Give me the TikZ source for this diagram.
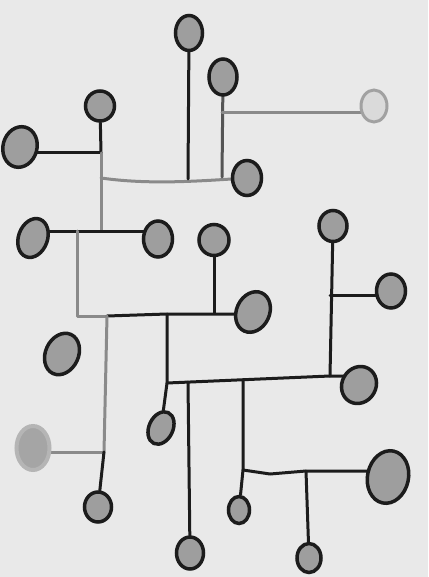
\documentclass[tikz,border=0pt]{standalone}
\usetikzlibrary{shapes.geometric}
\pgfdeclarelayer{bg}
\pgfdeclarelayer{lines}
\pgfsetlayers{bg,lines,main}
\definecolor{paper}{HTML}{E9E9E9}
\definecolor{ink}{HTML}{1C1C1C}
\definecolor{dotfill}{HTML}{9E9E9E}
\definecolor{greyline}{HTML}{8A8A8A}
\definecolor{midline}{HTML}{555555}
\tikzset{
  dot/.style={ellipse, draw=ink, line width=3.5pt, fill=dotfill, inner sep=0pt},
  faintdot/.style={ellipse, draw=greyline!80, line width=3pt, fill=paper!80!dotfill, inner sep=0pt},
  ghostdot/.style={ellipse, draw=dotfill!70!paper, line width=4pt, fill=dotfill!90!paper, inner sep=0pt},
  wire/.style={draw=ink, line width=3pt, line cap=round, line join=round},
  greywire/.style={draw=greyline, line width=3pt, line cap=round, line join=round},
  midwire/.style={draw=midline, line width=3pt, line cap=round, line join=round}
}
\begin{document}
\begin{tikzpicture}[x=1pt,y=-1pt]
\begin{pgfonlayer}{bg}
\fill[paper] (0,0) rectangle (428,577);
\end{pgfonlayer}
\useasboundingbox (0,0) rectangle (428,577);

% nodes
\node[dot, minimum width=27pt, minimum height=35pt] (n1) at (189,33) {};
\node[dot, minimum width=28pt, minimum height=36pt] (n2) at (223,77) {};
\node[faintdot, minimum width=26pt, minimum height=32pt] (n3) at (374,106) {};
\node[dot, minimum width=29pt, minimum height=30pt] (n4) at (100,106) {};
\node[dot, minimum width=34pt, minimum height=41pt, rotate=-15] (n5) at (20,147) {};
\node[dot, minimum width=29pt, minimum height=40pt, rotate=-20] (n6) at (33,238) {};
\node[dot, minimum width=29pt, minimum height=35pt] (n7) at (247,178) {};
\node[dot, minimum width=29pt, minimum height=36pt] (n8) at (158,239) {};
\node[dot, minimum width=30pt, minimum height=31pt] (n9) at (214,240) {};
\node[dot, minimum width=33pt, minimum height=42pt, rotate=-25] (n10) at (253,312) {};
\node[dot, minimum width=33pt, minimum height=43pt, rotate=-25] (n11) at (62,354) {};
\node[dot, minimum width=34pt, minimum height=38pt, rotate=-30] (n12) at (359,385) {};
\node[dot, minimum width=24pt, minimum height=34pt, rotate=-25] (n13) at (161,428) {};
\node[dot, minimum width=27pt, minimum height=32pt] (n14) at (190,553) {};
\node[dot, minimum width=21pt, minimum height=27pt] (n15) at (239,510) {};
\node[dot, minimum width=41pt, minimum height=53pt, rotate=-12] (n16) at (388,477) {};
\node[dot, minimum width=24pt, minimum height=29pt] (n17) at (309,558) {};
\node[dot, minimum width=27pt, minimum height=30pt] (n18) at (98,507) {};
\node[ghostdot, minimum width=33pt, minimum height=44pt] (n19) at (33,448) {};
\node[dot, minimum width=28pt, minimum height=31pt] (n20) at (333,226) {};
\node[dot, minimum width=29pt, minimum height=34pt] (n21) at (391,291) {};

% junctions
\coordinate (a1) at (101,153);
\coordinate (a2) at (101,178);
\coordinate (a3) at (101,231);
\coordinate (a4) at (77,231);
\coordinate (a5) at (77,316);
\coordinate (a6) at (107,316);
\coordinate (a7) at (167,314);
\coordinate (a8) at (214,313);
\coordinate (a9) at (104,452);
\coordinate (b1) at (188,179);
\coordinate (b2) at (222,177);
\coordinate (b3) at (222,113);
\coordinate (c1) at (167,383);
\coordinate (c2) at (188,382);
\coordinate (c3) at (243,380);
\coordinate (c4) at (330,376);
\coordinate (c5) at (330,295);
\coordinate (d1) at (243,470);
\coordinate (d2) at (306,471);

\begin{pgfonlayer}{lines}
% upper left trunk
\draw[wire] (n4) -- (a1);
\draw[wire] (a1) -- (a1 -| n5);
\draw[greywire] (a1) -- (a3);
\draw[greywire] (a2) .. controls (150,185) and (200,181) .. (a2 -| n7);
\draw[wire] (n1) -- (b1);
\draw[midwire] (n2) -- (b2);
\draw[greywire] (b3) -- (b3 -| n3);
\draw[wire] (a3 -| n6) -- (a3 -| n8);
\draw[greywire] (a4) -- (a5) -- (a6);
\draw[wire] (a6) -- (a7) -- (a7 -| n10);
\draw[wire] (n9) -- (a8);
\draw[greywire] (a6) -- (a9);
\draw[greywire] (a9) -- (a9 -| n19);
\draw[wire] (a9) -- (n18);
% middle trees
\draw[wire] (a7) -- (c1) -- (n13);
\draw[wire] (c1) -- (c4) -- (c4 -| n12);
\draw[wire] (c4) -- (n20);
\draw[wire] (c5) -- (c5 -| n21);
\draw[wire] (c2) -- (n14);
\draw[wire] (c3) -- (d1) -- (n15);
\draw[wire] (d1) -- (270,474) -- (d2) -- (d2 -| n16);
\draw[wire] (d2) -- (n17);
\end{pgfonlayer}
\end{tikzpicture}
\end{document}
